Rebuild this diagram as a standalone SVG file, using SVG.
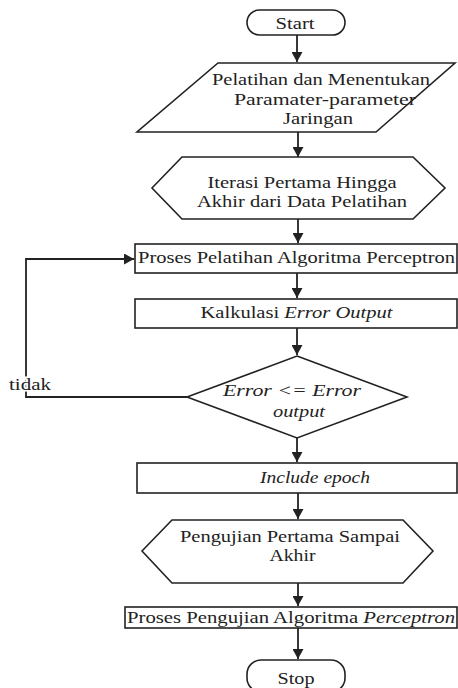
<svg xmlns="http://www.w3.org/2000/svg" width="458" height="688" viewBox="0 0 458 688">
<style>
.s{fill:#fff;stroke:#222;stroke-width:1.6}
.c{fill:none;stroke:#222;stroke-width:1.8}
.t{font-family:"Liberation Serif","Times New Roman",serif;font-size:16px;fill:#222;text-anchor:middle}
.i{font-style:italic}
.l{text-anchor:start;paint-order:stroke;stroke:#fff;stroke-width:3px}
</style>
<defs>
<marker id="ah" markerUnits="userSpaceOnUse" markerWidth="11" markerHeight="11" refX="10" refY="5.5" orient="auto">
<path d="M0,0 L10,5.5 L0,11 z" fill="#222"/>
</marker>
</defs>
<g id="connectors">
<path class="c" d="M297,35 V62" marker-end="url(#ah)"/>
<path class="c" d="M298,132 V157" marker-end="url(#ah)"/>
<path class="c" d="M298,219 V243" marker-end="url(#ah)"/>
<path class="c" d="M297,273 V298" marker-end="url(#ah)"/>
<path class="c" d="M297,328 V355" marker-end="url(#ah)"/>
<path class="c" d="M297,438 V462" marker-end="url(#ah)"/>
<path class="c" d="M298,493 V519" marker-end="url(#ah)"/>
<path class="c" d="M298,583 V606" marker-end="url(#ah)"/>
<path class="c" d="M298,628 V659" marker-end="url(#ah)"/>
<path class="c" d="M187,397 H26 V259 H134" marker-end="url(#ah)"/>
<text class="t l" x="9" y="390" textLength="42" lengthAdjust="spacingAndGlyphs">tidak</text>
</g>
<g id="start">
<rect class="s" x="247" y="10" width="98" height="25" rx="12.5"/>
<text class="t" x="295" y="29" textLength="39" lengthAdjust="spacingAndGlyphs">Start</text>
</g>
<g id="input">
<polygon class="s" points="218,63 455,63 376,132 137,132"/>
<text class="t" x="321" y="85" textLength="218" lengthAdjust="spacingAndGlyphs">Pelatihan dan Menentukan</text>
<text class="t" x="325" y="105" textLength="182" lengthAdjust="spacingAndGlyphs">Paramater-parameter</text>
<text class="t" x="318" y="124" textLength="70" lengthAdjust="spacingAndGlyphs">Jaringan</text>
</g>
<g id="iterasi">
<polygon class="s" points="152,188 182,157 413,157 445,188 413,219 182,219"/>
<text class="t" x="302" y="188" textLength="189" lengthAdjust="spacingAndGlyphs">Iterasi Pertama Hingga</text>
<text class="t" x="302" y="207" textLength="210" lengthAdjust="spacingAndGlyphs">Akhir dari Data Pelatihan</text>
</g>
<g id="proses-pelatihan">
<rect class="s" x="135" y="244" width="322" height="29"/>
<text class="t" x="296.5" y="263" textLength="317" lengthAdjust="spacingAndGlyphs">Proses Pelatihan Algoritma Perceptron</text>
</g>
<g id="kalkulasi">
<rect class="s" x="135" y="299" width="322" height="29"/>
<text class="t" x="296.5" y="318" textLength="192" lengthAdjust="spacingAndGlyphs">Kalkulasi <tspan class="i">Error Output</tspan></text>
</g>
<g id="keputusan">
<polygon class="s" points="297,356 407,397 297,438 187,397"/>
<text class="t i" x="292" y="396" textLength="138" lengthAdjust="spacingAndGlyphs">Error &lt;= Error</text>
<text class="t i" x="299" y="417" textLength="52" lengthAdjust="spacingAndGlyphs">output</text>
</g>
<g id="epoch">
<rect class="s" x="137" y="463" width="320" height="30"/>
<text class="t i" x="315" y="483" textLength="110" lengthAdjust="spacingAndGlyphs">Include epoch</text>
</g>
<g id="pengujian">
<polygon class="s" points="142,551 172,520 403,520 433,551 403,583 172,583"/>
<text class="t" x="290" y="542" textLength="220" lengthAdjust="spacingAndGlyphs">Pengujian Pertama Sampai</text>
<text class="t" x="292.5" y="561" textLength="46" lengthAdjust="spacingAndGlyphs">Akhir</text>
</g>
<g id="proses-pengujian">
<rect class="s" x="125" y="607" width="332" height="21"/>
<text class="t" x="291" y="623" textLength="328" lengthAdjust="spacingAndGlyphs">Proses Pengujian Algoritma <tspan class="i">Perceptron</tspan></text>
</g>
<g id="stop">
<rect class="s" x="247" y="660" width="98" height="32" rx="14"/>
<text class="t" x="296" y="684" textLength="37" lengthAdjust="spacingAndGlyphs">Stop</text>
</g>
</svg>
